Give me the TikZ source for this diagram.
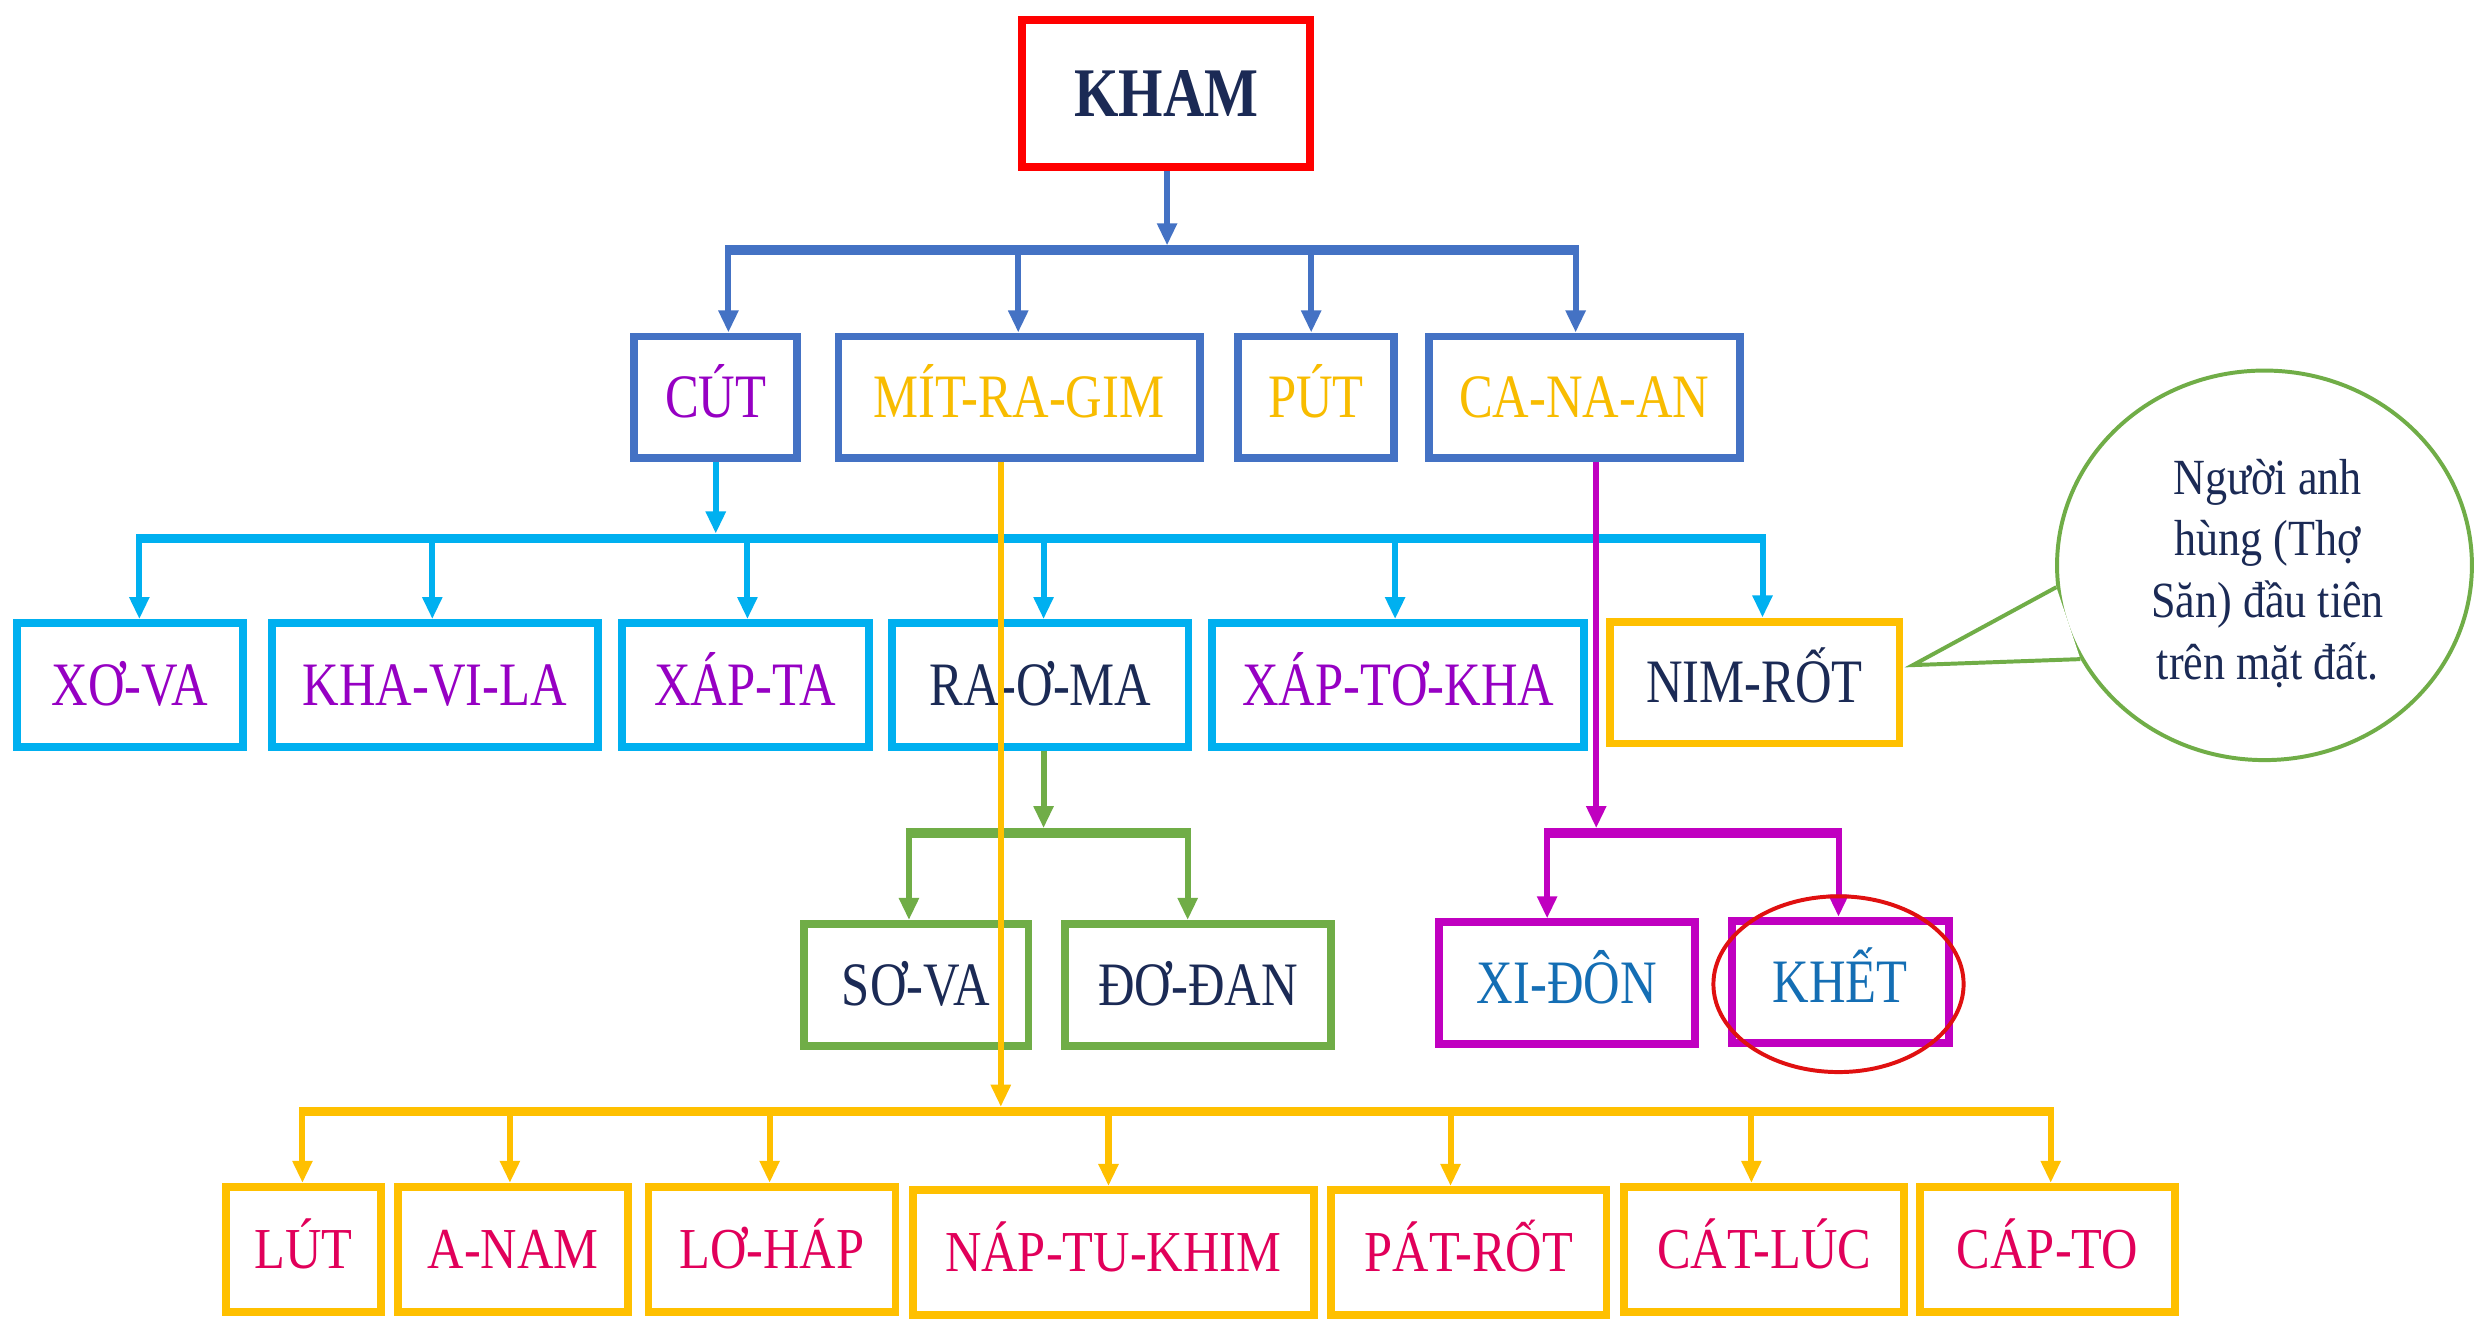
\documentclass[tikz,border=0pt]{standalone}
\usepackage{fontspec}
\setmainfont[FakeStretch=0.82]{Liberation Serif}
\newfontfamily\rowfont[FakeStretch=0.87]{Liberation Serif}
\newfontfamily\callfont[FakeStretch=0.87]{Liberation Serif}
\usetikzlibrary{arrows.meta,shapes.geometric}
\definecolor{redk}{HTML}{FF0000}
\definecolor{rede}{HTML}{E01010}
\definecolor{blueb}{HTML}{4472C4}
\definecolor{cyanb}{HTML}{00B0F0}
\definecolor{greenb}{HTML}{70AD47}
\definecolor{purpb}{HTML}{C000C0}
\definecolor{goldb}{HTML}{FFC000}
\definecolor{navyt}{HTML}{1B2A55}
\definecolor{purpt}{RGB}{150,0,195}
\definecolor{goldt}{HTML}{F8BC00}
\definecolor{bluet}{HTML}{146EB4}
\definecolor{redt}{HTML}{E1005A}
\tikzset{
  box/.style={draw, line width=5pt, inner sep=0pt, minimum height=77pt,
    text height=25.7pt, text depth=0pt, font=\fontsize{39}{44}\selectfont},
  boxa/.style={box, draw=blueb},
  boxb/.style={box, draw=cyanb, minimum height=78pt},
  boxc/.style={box, draw=greenb, text=navyt},
  boxd/.style={box, draw=purpb, text=bluet},
  boxe/.style={box, draw=goldb, text=redt, minimum height=79pt,
    text height=24.2pt, font=\rowfont\fontsize{36.6}{40}\selectfont},
  arr/.style={line width=3.8pt, -{Triangle[length=14pt,width=12pt]}},
  feed/.style={arr, shorten >=3pt},
  bus/.style={line width=6pt, shorten <=-1.9pt, shorten >=-1.9pt},
}
\begin{document}
\begin{tikzpicture}[x=1pt,y=-1pt]
\useasboundingbox (0,0) rectangle (1568,837.35);
\fill[white] (0,0) rectangle (1568,837.35);

% top
\node[box, draw=redk, text=navyt, font=\bfseries\fontsize{44}{48}\selectfont,
  text height=29.7pt, minimum width=182pt, minimum height=93pt] (kham) at (736.5,59) {KHAM};

% level 1
\node[boxa, text=purpt, minimum width=103pt] (cut) at (452,251) {CÚT};
\node[boxa, text=goldt, minimum width=228pt] (mit) at (643.5,251) {MÍT-RA-GIM};
\node[boxa, text=goldt, minimum width=99pt] (put) at (831,251) {PÚT};
\node[boxa, text=goldt, minimum width=196pt] (canaan) at (1000.5,251) {CA-NA-AN};

% level 2
\node[boxb, text=purpt, minimum width=143pt] (xova) at (82,432.5) {XƠ-VA};
\node[boxb, text=purpt, minimum width=206pt] (khavila) at (274.5,432.5) {KHA-VI-LA};
\node[boxb, text=purpt, minimum width=156pt] (xapta) at (470.5,432.5) {XÁP-TA};
\node[boxb, text=navyt, minimum width=187pt] (raoma) at (657,432.5) {RA-Ơ-MA};
\node[boxb, text=purpt, minimum width=235pt] (xaptokha) at (883,432.5) {XÁP-TƠ-KHA};
\node[box, draw=goldb, text=navyt, minimum width=183pt] (nimrot) at (1108,431) {NIM-RỐT};

% level 3
\node[boxc, minimum width=142pt] (sova) at (578.5,622) {SƠ-VA};
\node[boxc, minimum width=168pt] (dodan) at (756.5,622) {ĐƠ-ĐAN};
\node[boxd, minimum width=162pt] (xidon) at (989.5,621) {XI-ĐÔN};
\node[boxd, minimum width=137pt] (khet) at (1162,620) {KHẾT};

% level 4
\node[boxe, minimum width=98pt] (lut) at (191.5,789) {LÚT};
\node[boxe, minimum width=145pt] (anam) at (324,789) {A-NAM};
\node[boxe, minimum width=156pt] (lohap) at (487.5,789) {LƠ-HÁP};
\node[boxe, minimum width=253pt] (naptukhim) at (703,791) {NÁP-TU-KHIM};
\node[boxe, minimum width=174pt] (patrot) at (927.5,791) {PÁT-RỐT};
\node[boxe, minimum width=177pt] (catluc) at (1114,789) {CÁT-LÚC};
\node[boxe, minimum width=161pt] (capto) at (1293,789) {CÁP-TO};

% junction coordinates
\coordinate (bk) at (737,158);
\coordinate (b1) at (460,158);
\coordinate (b2) at (643,158);
\coordinate (b3) at (828,158);
\coordinate (b4) at (995,158);
\coordinate (c1) at (88,340);
\coordinate (c2) at (273,340);
\coordinate (c3) at (472,340);
\coordinate (c4) at (659,340);
\coordinate (c5) at (881,340);
\coordinate (c6) at (1113,340);
\coordinate (r1) at (574,526);
\coordinate (r2) at (750,526);
\coordinate (p0) at (1008,526);
\coordinate (p1) at (977,526);
\coordinate (p2) at (1161,526);
\coordinate (g0) at (632,702);
\coordinate (g1) at (191,702);
\coordinate (g2) at (322,702);
\coordinate (g3) at (486,702);
\coordinate (g4) at (700,702);
\coordinate (g5) at (916,702);
\coordinate (g6) at (1106,702);
\coordinate (g7) at (1295,702);

% blue
\draw[feed, blueb] (kham.south -| bk) -- (bk);
\draw[bus, blueb] (b1) -- (b4);
\foreach \j/\n in {b1/cut, b2/mit, b3/put, b4/canaan}
  \draw[arr, blueb] (\j) -- (\j |- \n.north);

% cyan
\draw[feed, cyanb] (cut.south) -- (cut.south |- c1);
\draw[bus, cyanb] (c1) -- (c6);
\foreach \j/\n in {c1/xova, c2/khavila, c3/xapta, c4/raoma, c5/xaptokha, c6/nimrot}
  \draw[arr, cyanb] (\j) -- (\j |- \n.north);

% green
\draw[feed, greenb] (raoma.south -| c4) -- (c4 |- r1);
\draw[bus, greenb] (r1) -- (r2);
\foreach \j/\n in {r1/sova, r2/dodan}
  \draw[arr, greenb] (\j) -- (\j |- \n.north);

% purple
\draw[feed, purpb] (p0 |- canaan.south) -- (p0);
\draw[bus, purpb] (p1) -- (p2);
\foreach \j/\n in {p1/xidon, p2/khet}
  \draw[arr, purpb] (\j) -- (\j |- \n.north);

% gold
\draw[feed, goldb] (g0 |- mit.south) -- (g0);
\draw[bus, goldb] (g1) -- (g7);
\foreach \j/\n in {g1/lut, g2/anam, g3/lohap, g4/naptukhim, g5/patrot, g6/catluc, g7/capto}
  \draw[arr, goldb] (\j) -- (\j |- \n.north);

% callout
\node[ellipse, draw=greenb, line width=2.5pt, fill=white, inner sep=0pt,
  minimum width=262pt, minimum height=246pt] (call) at (1430,357) {};
\coordinate (tip) at (1208,420);
\fill[white] (call.186) -- (tip) -- (call.207) -- cycle;
\draw[greenb, line width=2.5pt, line join=miter] (call.186) -- (tip) -- (call.207);
\node[align=center, text=navyt, font=\callfont\fontsize{32}{39}\selectfont] (calltext) at (1432,362)
  {Người anh\\hùng (Thợ\\Săn) đầu tiên\\trên mặt đất.};

% red ring around KHẾT
\node[ellipse, draw=rede, line width=2.5pt, inner sep=0pt,
  minimum width=158pt, minimum height=111pt] (ring) at (1161,621.5) {};
\end{tikzpicture}
\end{document}
